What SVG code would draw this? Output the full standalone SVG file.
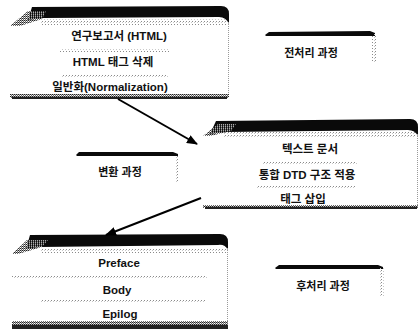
<svg xmlns="http://www.w3.org/2000/svg" width="420" height="329" viewBox="0 0 420 329">
<style>
.t{font-family:"Liberation Sans","Noto Sans CJK KR",sans-serif;font-weight:bold;font-size:11.5px;fill:#111;text-anchor:middle}
.s{font-family:"Liberation Sans","Noto Sans CJK KR",sans-serif;font-weight:bold;font-size:11px;fill:#111;text-anchor:middle}
.blk{fill:#0a0a0a}
.dk{fill:url(#dotsDark)}
.lt{fill:url(#dotsLight)}
.edge{stroke:#999;stroke-width:1;stroke-dasharray:1 1;fill:none}
.conn{stroke:#000;stroke-width:2;fill:none;marker-end:url(#ah)}
</style>
<defs>
<pattern id="dotsLight" width="3" height="3" patternUnits="userSpaceOnUse"><rect width="1" height="1" fill="#8a8a8a"/><rect x="2" y="1" width="1" height="1" fill="#c8c8c8"/></pattern>
<pattern id="dotsDark" width="2" height="2" patternUnits="userSpaceOnUse"><rect width="1" height="1" fill="#222"/><rect x="1" y="1" width="1" height="1" fill="#666"/><rect x="1" y="0" width="1" height="1" fill="#aaa"/></pattern>
<marker id="ah" markerUnits="userSpaceOnUse" markerWidth="11" markerHeight="9" refX="10" refY="4.5" orient="auto"><path d="M0,0 L11,4.5 L0,9 Z" fill="#000"/></marker>
</defs>
<rect width="420" height="329" fill="#fff"/>

<g id="box1">
<path class="blk" d="M32 7 L221 6 Q229 6 229 14 L229 24 Q226 17 219 17 L42 18 L28 20 Z"/>
<path class="dk" d="M10 26 L28 11 L46 11 L42 19 L20 26 Z"/>
<rect class="lt" x="40" y="19" width="186" height="6"/>
<rect class="lt" x="60" y="49" width="110" height="3"/>
<rect class="lt" x="62" y="75" width="106" height="3"/>
<line class="edge" x1="228.5" y1="22" x2="228.5" y2="94"/>
<rect class="dk" x="10" y="94" width="219" height="4"/>
<rect x="12" y="97" width="215" height="2" fill="#222"/>
<text class="t" x="119" y="39.5">연구보고서 (HTML)</text>
<text class="t" x="113" y="66">HTML 태그 삭제</text>
<text class="t" x="110" y="91">일반화(Normalization)</text>
</g>

<g id="box2">
<path class="blk" d="M216 121 L410 119 Q418 119 418 127 L418 136 Q415 130 408 130 L224 132 L210 134 Z"/>
<path class="dk" d="M203 136 L218 124 L236 124 L231 131 L210 136 Z"/>
<rect class="lt" x="224" y="132" width="192" height="5"/>
<rect class="lt" x="262" y="161" width="95" height="3"/>
<rect class="lt" x="257" y="186" width="98" height="3"/>
<line class="edge" x1="417.5" y1="134" x2="417.5" y2="205"/>
<rect class="dk" x="203" y="205" width="215" height="3"/>
<rect x="205" y="207" width="212" height="2" fill="#222"/>
<text class="t" x="310" y="153">텍스트 문서</text>
<text class="t" x="307" y="179">통합 DTD 구조 적용</text>
<text class="t" x="303" y="202.5">태그 삽입</text>
</g>

<g id="box3">
<path class="blk" d="M30 235 L220 234 Q228 234 228 242 L228 250 Q225 244 218 245 L40 247 L26 249 Z"/>
<path class="dk" d="M12 254 L27 240 L48 240 L42 247 L18 254 Z"/>
<rect class="lt" x="40" y="248" width="186" height="5"/>
<rect class="lt" x="12" y="276" width="195" height="3"/>
<rect class="lt" x="40" y="299" width="165" height="3"/>
<line class="edge" x1="227.5" y1="248" x2="227.5" y2="322"/>
<rect class="dk" x="12" y="321" width="216" height="5"/>
<rect x="12" y="325" width="216" height="4" fill="#222"/>
<text class="t" x="119" y="267">Preface</text>
<text class="t" x="117" y="294">Body</text>
<text class="t" x="120" y="318">Epilog</text>
</g>

<g id="label-pre">
<path class="blk" d="M265 35 L269 32 L370 31 L375 33 L375 36 L266 36 Z"/>
<rect class="lt" x="372" y="34" width="4" height="28"/>
<text class="s" x="311" y="57">전처리 과정</text>
</g>

<g id="label-conv">
<path class="blk" d="M76 155 L79 152 L173 152 L178 154 L178 156 L77 156 Z"/>
<rect class="lt" x="175" y="155" width="4" height="28"/>
<text class="s" x="120" y="176">변환 과정</text>
</g>

<g id="label-post">
<path class="blk" d="M275 268 L279 265 L378 265 L383 267 L383 269 L276 269 Z"/>
<rect class="lt" x="380" y="268" width="4" height="28"/>
<text class="s" x="323" y="290">후처리 과정</text>
</g>

<g id="connectors">
<line class="conn" x1="118" y1="99" x2="197" y2="144"/>
<line class="conn" x1="201" y1="198" x2="106" y2="235"/>
</g>
</svg>
